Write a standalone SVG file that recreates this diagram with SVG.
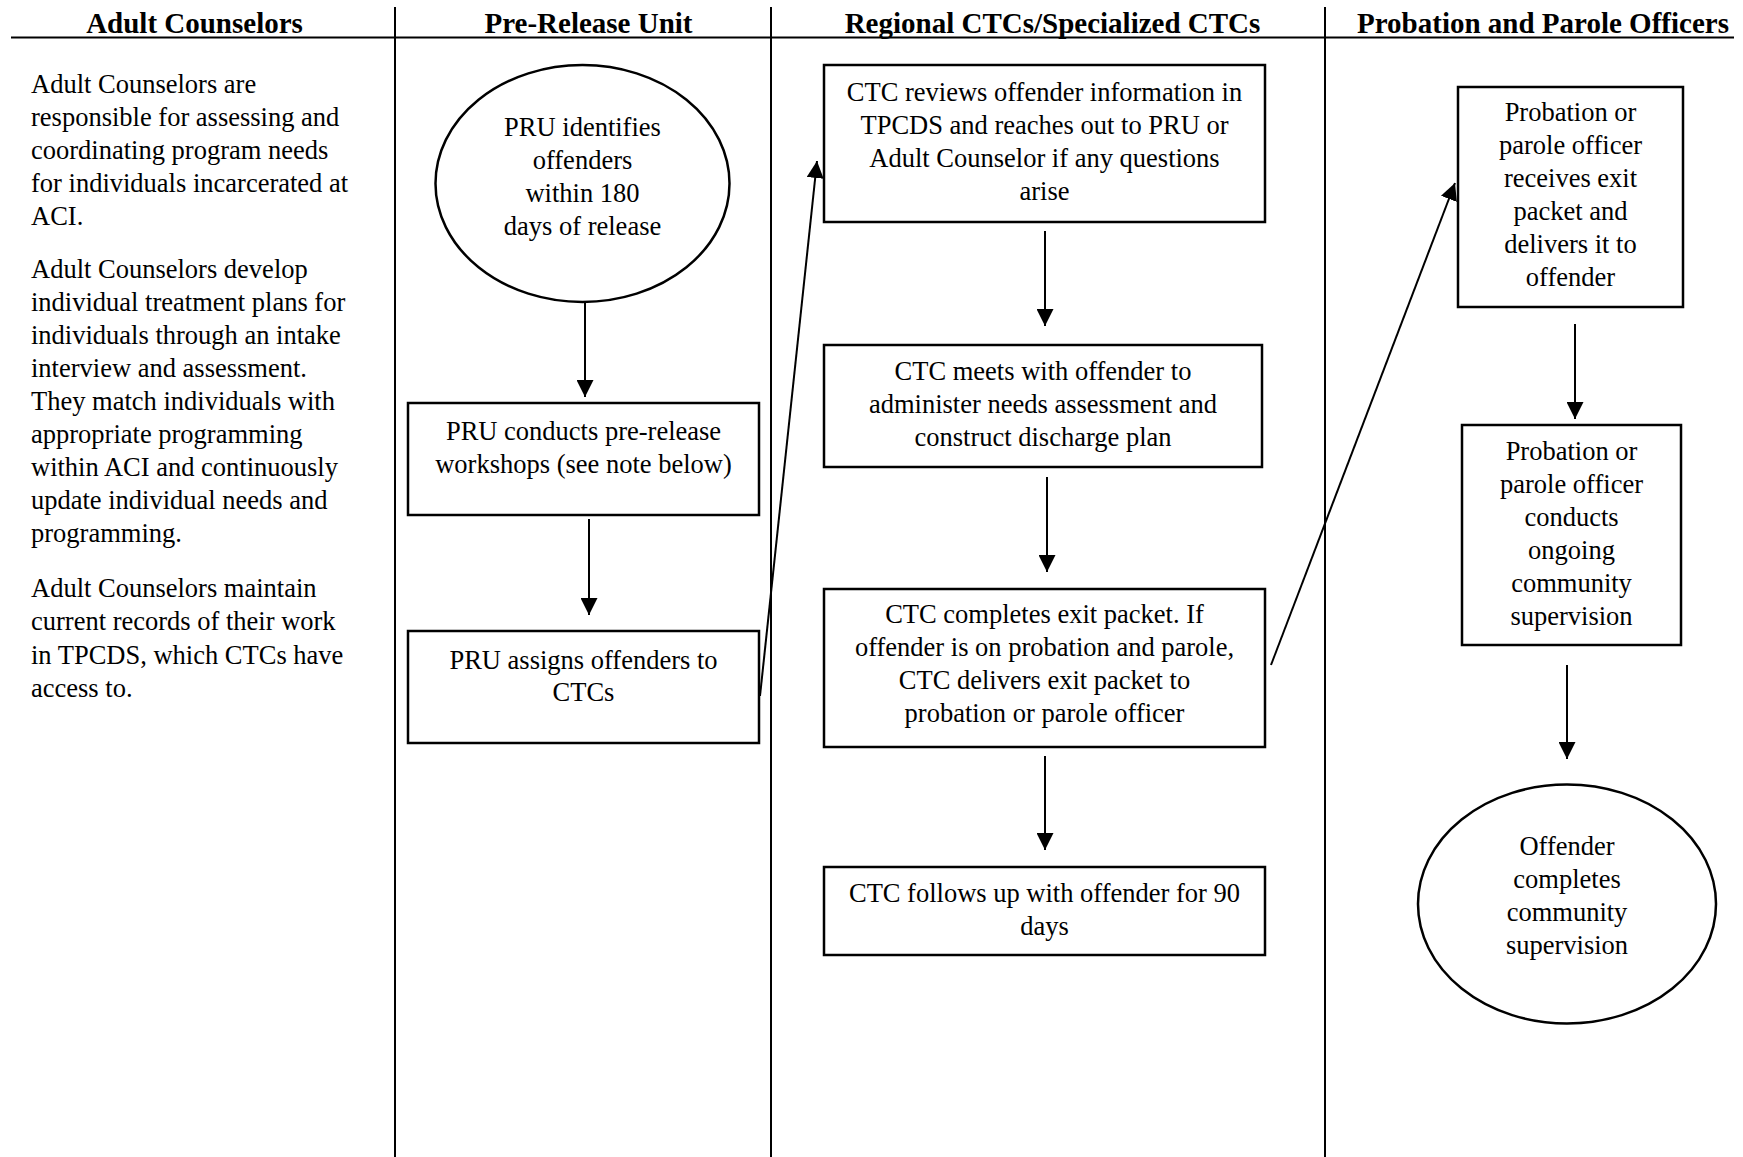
<svg xmlns="http://www.w3.org/2000/svg" width="1743" height="1157" viewBox="0 0 1743 1157">
<defs>
<style>
.hd{font-family:"Liberation Serif","Times New Roman",serif;font-size:29px;font-weight:bold;text-anchor:middle;fill:#000}
.tx{font-family:"Liberation Serif","Times New Roman",serif;font-size:26.5px;fill:#000}
.c{text-anchor:middle}
.box{fill:#fff;stroke:#000;stroke-width:2.5}
.lane{stroke:#000;stroke-width:2;fill:none}
.cn{stroke:#000;stroke-width:2;fill:none;marker-end:url(#ah)}
</style>
<marker id="ah" markerUnits="userSpaceOnUse" markerWidth="17" markerHeight="17" viewBox="0 0 16 16" refX="16" refY="8" orient="auto">
<path d="M0,0 L16,8 L0,16 z" fill="#000"/>
</marker>
</defs>
<rect width="1743" height="1157" fill="#fff"/>
<g id="lanes">
<line class="lane" x1="11" y1="37.5" x2="1734" y2="37.5" stroke-width="3"/>
<line class="lane" x1="395" y1="7" x2="395" y2="1157"/>
<line class="lane" x1="771" y1="7" x2="771" y2="1157"/>
<line class="lane" x1="1325" y1="7" x2="1325" y2="1157"/>
<text class="hd" x="194.5" y="32.5">Adult Counselors</text>
<text class="hd" x="588.5" y="32.5">Pre-Release Unit</text>
<text class="hd" x="1052.5" y="32.5">Regional CTCs/Specialized CTCs</text>
<text class="hd" x="1543" y="32.5">Probation and Parole Officers</text>
</g>
<g id="adult-counselors-notes" class="tx">
<text x="31" y="92.7">Adult Counselors are</text>
<text x="31" y="125.7">responsible for assessing and</text>
<text x="31" y="158.7">coordinating program needs</text>
<text x="31" y="191.7">for individuals incarcerated at</text>
<text x="31" y="224.7">ACI.</text>
<text x="31" y="278.3">Adult Counselors develop</text>
<text x="31" y="311.3">individual treatment plans for</text>
<text x="31" y="344.3">individuals through an intake</text>
<text x="31" y="377.3">interview and assessment.</text>
<text x="31" y="410.3">They match individuals with</text>
<text x="31" y="443.3">appropriate programming</text>
<text x="31" y="476.3">within ACI and continuously</text>
<text x="31" y="509.3">update individual needs and</text>
<text x="31" y="542.3">programming.</text>
<text x="31" y="597">Adult Counselors maintain</text>
<text x="31" y="630">current records of their work</text>
<text x="31" y="663.5">in TPCDS, which CTCs have</text>
<text x="31" y="697">access to.</text>
</g>
<g id="connectors">
<line class="cn" x1="585" y1="302" x2="585" y2="397"/>
<line class="cn" x1="589" y1="519" x2="589" y2="615"/>
<line class="cn" x1="760" y1="696" x2="817" y2="161"/>
<line class="cn" x1="1045" y1="231" x2="1045" y2="326"/>
<line class="cn" x1="1047" y1="477" x2="1047" y2="572"/>
<line class="cn" x1="1045" y1="756" x2="1045" y2="850"/>
<line class="cn" x1="1271" y1="665" x2="1455" y2="183"/>
<line class="cn" x1="1575" y1="324" x2="1575" y2="419"/>
<line class="cn" x1="1567" y1="665" x2="1567" y2="759"/>
</g>
<g id="pru-identifies">
<ellipse class="box" cx="582.5" cy="183.5" rx="147" ry="118.5"/>
<text class="tx c" x="582.5" y="136">PRU identifies</text>
<text class="tx c" x="582.5" y="169">offenders</text>
<text class="tx c" x="582.5" y="202">within 180</text>
<text class="tx c" x="582.5" y="235">days of release</text>
</g>
<g id="pru-workshops">
<rect class="box" x="408" y="403" width="351" height="112"/>
<text class="tx c" x="583.5" y="440">PRU conducts pre-release</text>
<text class="tx c" x="583.5" y="473">workshops (see note below)</text>
</g>
<g id="pru-assigns">
<rect class="box" x="408" y="631" width="351" height="112"/>
<text class="tx c" x="583.5" y="668.5">PRU assigns offenders to</text>
<text class="tx c" x="583.5" y="701">CTCs</text>
</g>
<g id="ctc-reviews">
<rect class="box" x="824" y="65" width="441" height="157"/>
<text class="tx c" x="1044.5" y="101">CTC reviews offender information in</text>
<text class="tx c" x="1044.5" y="134">TPCDS and reaches out to PRU or</text>
<text class="tx c" x="1044.5" y="167">Adult Counselor if any questions</text>
<text class="tx c" x="1044.5" y="200">arise</text>
</g>
<g id="ctc-meets">
<rect class="box" x="824" y="345" width="438" height="122"/>
<text class="tx c" x="1043" y="380">CTC meets with offender to</text>
<text class="tx c" x="1043" y="413">administer needs assessment and</text>
<text class="tx c" x="1043" y="446">construct discharge plan</text>
</g>
<g id="ctc-exit-packet">
<rect class="box" x="824" y="589" width="441" height="158"/>
<text class="tx c" x="1044.5" y="623">CTC completes exit packet. If</text>
<text class="tx c" x="1044.5" y="656">offender is on probation and parole,</text>
<text class="tx c" x="1044.5" y="689">CTC delivers exit packet to</text>
<text class="tx c" x="1044.5" y="722">probation or parole officer</text>
</g>
<g id="ctc-follows-up">
<rect class="box" x="824" y="867" width="441" height="88"/>
<text class="tx c" x="1044.5" y="902">CTC follows up with offender for 90</text>
<text class="tx c" x="1044.5" y="935">days</text>
</g>
<g id="po-receives">
<rect class="box" x="1458" y="87" width="225" height="220"/>
<text class="tx c" x="1570.5" y="121">Probation or</text>
<text class="tx c" x="1570.5" y="154">parole officer</text>
<text class="tx c" x="1570.5" y="187">receives exit</text>
<text class="tx c" x="1570.5" y="220">packet and</text>
<text class="tx c" x="1570.5" y="253">delivers it to</text>
<text class="tx c" x="1570.5" y="286">offender</text>
</g>
<g id="po-supervision">
<rect class="box" x="1462" y="425" width="219" height="220"/>
<text class="tx c" x="1571.5" y="460">Probation or</text>
<text class="tx c" x="1571.5" y="493">parole officer</text>
<text class="tx c" x="1571.5" y="526">conducts</text>
<text class="tx c" x="1571.5" y="559">ongoing</text>
<text class="tx c" x="1571.5" y="592">community</text>
<text class="tx c" x="1571.5" y="625">supervision</text>
</g>
<g id="offender-completes">
<ellipse class="box" cx="1567" cy="904" rx="149" ry="119.5"/>
<text class="tx c" x="1567" y="855">Offender</text>
<text class="tx c" x="1567" y="888">completes</text>
<text class="tx c" x="1567" y="921">community</text>
<text class="tx c" x="1567" y="954">supervision</text>
</g>
</svg>
